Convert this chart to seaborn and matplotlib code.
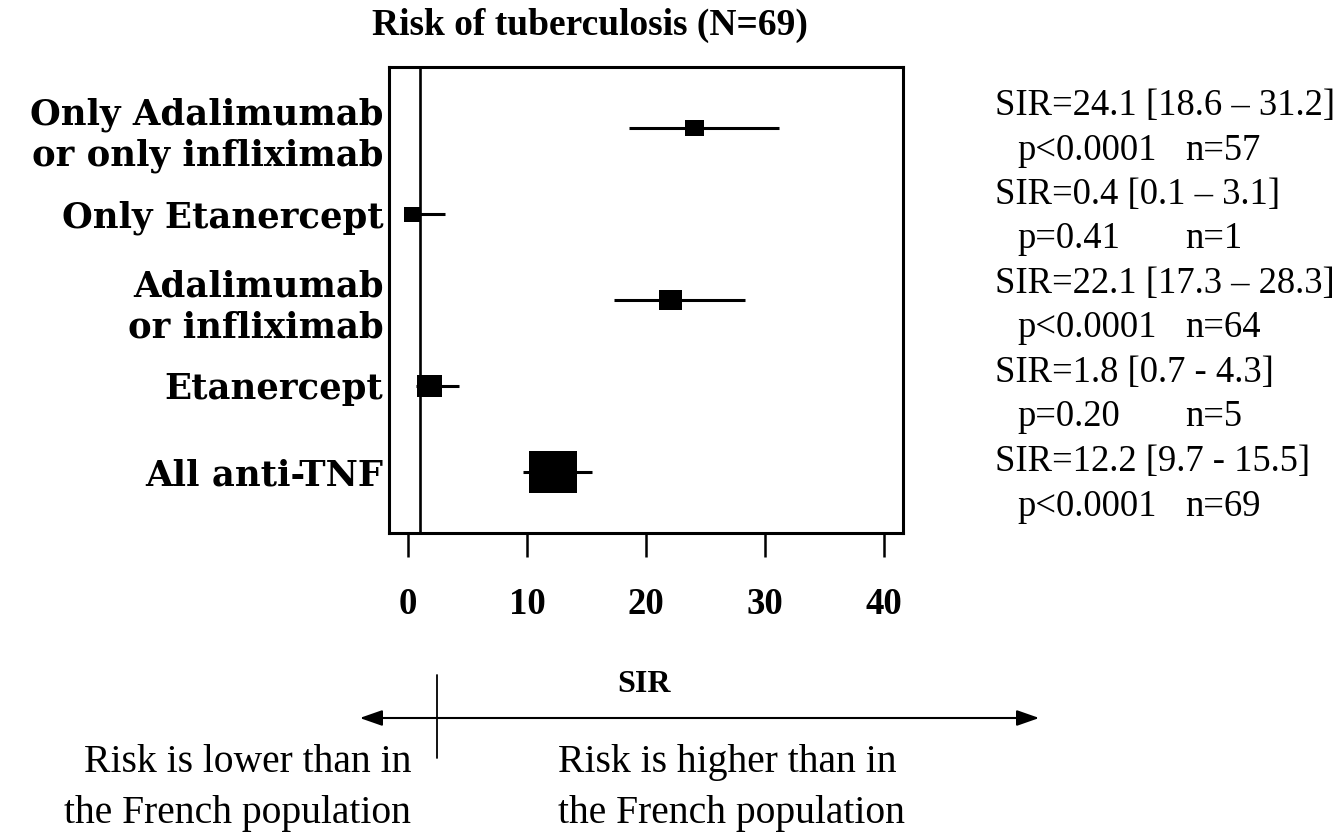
import matplotlib
matplotlib.use("Agg")
import matplotlib.pyplot as plt
from matplotlib.markers import MarkerStyle
from matplotlib.patches import FancyArrowPatch
from matplotlib.lines import Line2D
import pandas as pd
import seaborn as sns

# ---- data -------------------------------------------------------------
groups = ["Only Adalimumab\nor only infliximab", "Only Etanercept",
          "Adalimumab\nor infliximab", "Etanercept", "All anti-TNF"]
sir = [24.1, 0.4, 22.1, 1.8, 12.2]
ci_low = [18.6, 0.1, 17.3, 0.7, 9.7]
ci_high = [31.2, 3.1, 28.3, 4.3, 15.5]
ci_sep = ["\u2013", "\u2013", "\u2013", "-", "-"]
p_text = ["p<0.0001", "p=0.41", "p<0.0001", "p=0.20", "p<0.0001"]
n_cases = [57, 1, 64, 5, 69]
x_ticks = [0, 10, 20, 30, 40]

# ---- styling ----------------------------------------------------------
box_px = [19, 17, 23, 25, 48]       # marker width (px) per group
W, H = 1343, 836

sns.set_style("white")
plt.rcParams["font.family"] = ["Liberation Serif", "DejaVu Serif"]
for key in ("text.color", "axes.labelcolor", "xtick.color", "ytick.color",
            "axes.edgecolor"):
    plt.rcParams[key] = "black"

fig = plt.figure(figsize=(W / 100, H / 100), dpi=100)
fig.patch.set_facecolor("white")

def px_box(l, t, r, b):
    return [l / W, 1 - b / H, (r - l) / W, (b - t) / H]

ax = fig.add_axes(px_box(389, 67, 903, 533))

df = pd.DataFrame({"group": groups, "sir": sir, "lo": ci_low,
                   "hi": ci_high, "row": range(len(groups))})

# confidence intervals
ax.hlines(df["row"], df["lo"], df["hi"], color="black", lw=2.2, zorder=2)

# point estimates as filled squares (slightly wider than tall)
sq = MarkerStyle([(-1, -0.88), (1, -0.88), (1, 0.88), (-1, 0.88), (-1, -0.88)])
size_map = {g: (p * 0.72) ** 2 for g, p in zip(groups, box_px)}
sns.scatterplot(data=df, x="sir", y="row", size="group", sizes=size_map,
                marker=sq, color="black", edgecolor="none", linewidth=0,
                legend=False, ax=ax, zorder=3)

# reference line at SIR = 1
ax.axvline(1, color="black", lw=1.9, zorder=1)

ax.set_xlim(-1.6, 41.6)
ax.set_ylim(4.71, -0.71)
ax.set_xticks(x_ticks)
ax.set_xticklabels([str(t) for t in x_ticks], fontsize=26.5,
                   fontweight="bold", family="Liberation Serif")
ax.set_yticks(range(len(groups)))
ax.set_yticklabels(groups, fontsize=25.5, fontweight="bold",
                   family="DejaVu Serif", linespacing=1.25)
ax.tick_params(axis="x", direction="out", length=17, width=1.8,
               pad=22, color="black", bottom=True)
ax.tick_params(axis="y", length=0, pad=4)
for s in ax.spines.values():
    s.set_linewidth(2.2)
    s.set_color("black")

ax.set_xlabel("SIR", fontsize=23, fontweight="bold",
              family="Liberation Serif")
ax.xaxis.set_label_coords((644 - 389) / 514, (533 - 684) / 466)
ax.xaxis.label.set_va("center")
ax.set_ylabel("")

ax.set_title("Risk of tuberculosis (N=69)", fontsize=27, fontweight="bold",
             family="Liberation Serif", loc="left",
             x=(372 - 389) / 514, y=(533 - 43) / 466, va="baseline")

# ---- estimates listed on the right ----------------------------------
ann_fs = 26.4
for i in range(len(groups)):
    base1 = 115 + 44.5 * (2 * i)
    base2 = base1 + 44.5
    fig.text(995 / W, 1 - base1 / H,
             f"SIR={sir[i]} [{ci_low[i]} {ci_sep[i]} {ci_high[i]}]",
             fontsize=ann_fs, va="baseline", ha="left")
    fig.text(1017 / W, 1 - base2 / H, p_text[i],
             fontsize=ann_fs, va="baseline", ha="left")
    fig.text(1185 / W, 1 - base2 / H, f"n={n_cases[i]}",
             fontsize=ann_fs, va="baseline", ha="left")

# ---- direction arrow below the axis ---------------------------------
arrow = FancyArrowPatch((357 / W, 1 - 718 / H), (1042 / W, 1 - 718 / H),
                        transform=fig.transFigure,
                        arrowstyle="<|-|>,head_length=1.0,head_width=0.35",
                        mutation_scale=13.7, lw=1.5, color="black")
fig.patches.append(arrow)
fig.add_artist(Line2D([437 / W, 437 / W], [1 - 675 / H, 1 - 758 / H],
                      transform=fig.transFigure, color="black", lw=1.3))

bot_fs = 28.5
fig.text(411 / W, 1 - 772 / H, "Risk is lower than in", fontsize=bot_fs,
         ha="right", va="baseline")
fig.text(411 / W, 1 - 823 / H, "the French population", fontsize=bot_fs,
         ha="right", va="baseline")
fig.text(558 / W, 1 - 772 / H, "Risk is higher than in", fontsize=bot_fs,
         ha="left", va="baseline")
fig.text(558 / W, 1 - 823 / H, "the French population", fontsize=bot_fs,
         ha="left", va="baseline")

fig.savefig("out.png", dpi=100, facecolor="white")
